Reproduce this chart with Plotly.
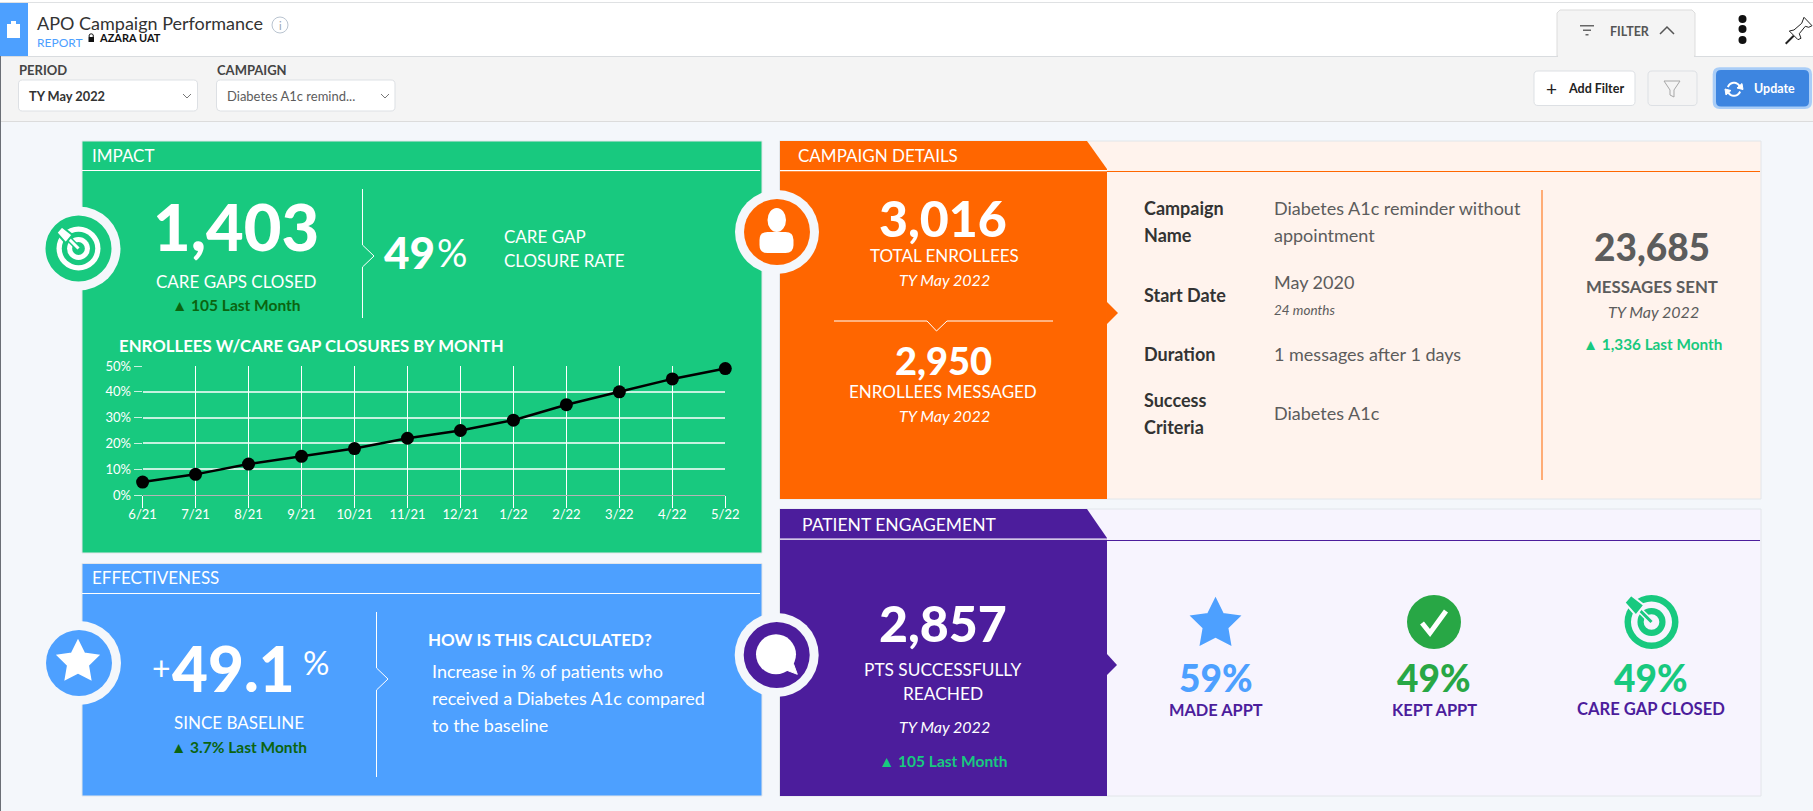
import math

import plotly.graph_objects as go

WIDTH = 1813
HEIGHT = 811
FONT = "Lato"

GREEN = "#18c97f"
ORANGE = "#ff6600"
BLUE = "#4da0ff"
PURPLE = "#4c1d9c"
KEPT_GREEN = "#28a745"
DARK_GREEN = "#0b6410"
PAGE = "#f4f7fb"
PEACH = "#fff3ed"
LAVENDER = "#f7f4fe"
TEXT_DARK = "#333333"
TEXT_GRAY = "#5c5c5c"

# closure rate chart
months = ["6/21", "7/21", "8/21", "9/21", "10/21", "11/21", "12/21", "1/22", "2/22", "3/22", "4/22", "5/22"]
closure_rates = [5, 8, 12, 15, 18, 22, 25, 29, 35, 40, 45, 49]
rate_ticks = [0, 10, 20, 30, 40, 50]
rate_tick_labels = ["0%", "10%", "20%", "30%", "40%", "50%"]

fig = go.Figure()


def fx(x):
    return x / WIDTH


def fy(y):
    return 1 - y / HEIGHT


def rect(x0, y0, x1, y1, fill, line=None, lw=1):
    fig.add_shape(
        type="rect", layer="below", xref="paper", yref="paper",
        x0=fx(x0), x1=fx(x1), y0=fy(y0), y1=fy(y1),
        fillcolor=fill, line=dict(color=line, width=lw if line else 0),
    )


def circle(cx, cy, r, fill, line=None, lw=1):
    fig.add_shape(
        type="circle", layer="below", xref="paper", yref="paper",
        x0=fx(cx - r), x1=fx(cx + r), y0=fy(cy - r), y1=fy(cy + r),
        fillcolor=fill, line=dict(color=line, width=lw if line else 0),
    )


def path(d, fill=None, line=None, lw=1):
    fig.add_shape(
        type="path", layer="below", xref="paper", yref="paper", path=d,
        fillcolor=fill if fill else "rgba(0,0,0,0)",
        line=dict(color=line, width=lw if line else 0),
    )


def poly(points, fill=None, line=None, lw=1, closed=True):
    d = "M" + " L".join(f"{fx(x):.5f},{fy(y):.5f}" for x, y in points)
    path(d + (" Z" if closed else ""), fill, line, lw)


def round_rect(x0, y0, x1, y1, r, fill, line=None, lw=1):
    p = lambda x, y: f"{fx(x):.5f},{fy(y):.5f}"
    d = (
        f"M{p(x0 + r, y0)} L{p(x1 - r, y0)} Q{p(x1, y0)} {p(x1, y0 + r)}"
        f" L{p(x1, y1 - r)} Q{p(x1, y1)} {p(x1 - r, y1)}"
        f" L{p(x0 + r, y1)} Q{p(x0, y1)} {p(x0, y1 - r)}"
        f" L{p(x0, y0 + r)} Q{p(x0, y0)} {p(x0 + r, y0)} Z"
    )
    path(d, fill, line, lw)


def star(cx, cy, r, fill):
    pts = []
    for i in range(10):
        rad = r if i % 2 == 0 else r * 0.5
        a = -math.pi / 2 + i * math.pi / 5
        pts.append((cx + rad * math.cos(a), cy + rad * math.sin(a)))
    poly(pts, fill, fill, 2)


def arc(cx, cy, r, start, end):
    steps = 12
    return [
        (
            cx + r * math.cos(math.radians(start + (end - start) * i / steps)),
            cy + r * math.sin(math.radians(start + (end - start) * i / steps)),
        )
        for i in range(steps + 1)
    ]


def label(x, y, text, size, color="#ffffff", anchor="left", bold=False, italic=False, weight=None):
    if bold:
        text = f"<b>{text}</b>"
    if italic:
        text = f"<i>{text}</i>"
    font = dict(family=FONT, size=size, color=color)
    if weight:
        font["weight"] = weight
    fig.add_annotation(
        xref="paper", yref="paper", x=fx(x), y=fy(y - 0.8), text=text,
        showarrow=False, xanchor=anchor, yanchor="middle", borderpad=0,
        font=font,
    )


def ring(cx, cy, color):
    circle(cx, cy, 42, PAGE)
    circle(cx, cy, 33, color)


def target(cx, cy, r, color, back):
    # bullseye with the arrow coming in from the top left
    circle(cx, cy, r, color)
    circle(cx, cy, r * 0.76, back)
    circle(cx, cy, r * 0.52, color)
    circle(cx, cy, r * 0.29, back)
    poly([(cx - r * 0.5, cy - r * 0.5), (cx, cy)], None, back, 6, closed=False)
    poly([(cx - r * 0.5, cy - r * 0.5), (cx, cy)], None, color, 3, closed=False)
    poly(
        [
            (cx - r * 0.76, cy - r * 1.0),
            (cx - r * 0.27, cy - r * 0.62),
            (cx - r * 0.58, cy - r * 0.24),
            (cx - r * 1.0, cy - r * 0.72),
        ],
        color, back, 2,
    )


def chevron_rule(x, y0, y1, tip_top, tip_bottom, tip_x):
    poly(
        [(x, y0), (x, tip_top), (tip_x, (tip_top + tip_bottom) / 2), (x, tip_bottom), (x, y1)],
        None, "#ffffff", 1, closed=False,
    )


# header and filter bar
rect(0, 0, WIDTH, 3, "#ffffff")
rect(0, 2, WIDTH, 3, "#dfe1e3")
rect(0, 3, WIDTH, 56, "#ffffff")
rect(0, 56, WIDTH, 121, "#f4f4f4")
rect(0, 56, WIDTH, 57, "#d9dcdf")
rect(0, 121, WIDTH, 122, "#dcdcdc")
rect(0, 56, 1, HEIGHT, "#6b6f76")
rect(0, 3, 28, 56, BLUE)
rect(7, 24, 20, 38, "#ffffff")
rect(11, 21, 16, 25, "#ffffff")

label(36, 23.8, "APO Campaign Performance", 18, TEXT_DARK)
circle(280, 25, 8, "#ffffff", "#b9c4d0", 1)
label(280, 25.8, "i", 11, "#9aa5b1", "center")
label(36, 43, "REPORT", 12, BLUE)
rect(88.5, 37, 94, 42, "#111111")
circle(91.2, 36, 2.2, None, "#111111", 1)
label(98, 38, "AZARA UAT", 11, "#111111", bold=True)

label(18, 71, "PERIOD", 13, "#444444", bold=True)
label(216, 71, "CAMPAIGN", 13, "#444444", bold=True)
round_rect(18.5, 80, 197.5, 111, 4, "#ffffff", "#dde0e4")
label(28, 96.8, "TY May 2022", 12.8, TEXT_DARK, bold=True)
poly([(183, 94), (187, 98), (191, 94)], None, "#777777", 1, closed=False)
round_rect(216.5, 80, 395, 111, 4, "#ffffff", "#dde0e4")
label(226, 96.8, "Diabetes A1c remind...", 13, TEXT_GRAY)
poly([(381, 94), (385, 98), (389, 94)], None, "#777777", 1, closed=False)

poly([(1557, 56), (1557, 13), (1560, 10), (1692, 10), (1695, 13), (1695, 56)], "#f4f4f4", "#dcdcdc")
rect(1558, 55, 1694, 58, "#f4f4f4")
rect(1580, 25, 1594, 26.5, "#666666")
rect(1583, 29.5, 1591, 31, "#666666")
rect(1585.5, 34, 1588.5, 35.5, "#666666")
label(1609, 31.8, "FILTER", 12.5, "#555555", bold=True)
poly([(1660, 34), (1667, 27), (1674, 34)], None, "#555555", 1.5, closed=False)
for dot_y in (19, 29, 40):
    circle(1742.5, dot_y, 4, "#111111")
poly(
    [
        (1804, 17.3), (1812, 25.7), (1808.7, 27.3), (1805.3, 26.3), (1799.3, 33.7), (1801, 38.3),
        (1798, 39.7), (1789.3, 31), (1794, 30), (1801.7, 23.3),
    ],
    "#ffffff", "#222222", 1,
)
poly([(1793.7, 35.7), (1785.7, 43.7)], None, "#222222", 2, closed=False)

round_rect(1534, 71, 1635, 105.5, 4, "#ffffff", "#dde0e4")
label(1551, 89, "+", 19, "#222222", "center")
label(1567, 89.8, "Add Filter", 12.5, "#222222", bold=True)
round_rect(1648, 71, 1697, 105.5, 4, "#f4f4f4", "#dde0e4")
poly([(1664, 81), (1680, 81), (1674, 90), (1674, 97), (1670, 95), (1670, 90)], None, "#a6a6a6", 1)
round_rect(1712.7, 67.3, 1812, 109, 7, "#a9cdf7")
round_rect(1716, 70, 1809, 106.5, 5, "#3d85e0")
poly(arc(1734, 89.3, 6.5, 20, 150), None, "#ffffff", 2, closed=False)
poly(arc(1734, 89.3, 6.5, 200, 330), None, "#ffffff", 2, closed=False)
poly([(1725, 89), (1731, 90.5), (1726, 95)], "#ffffff", "#ffffff", 1)
poly([(1743, 89.5), (1737, 88), (1742, 83.5)], "#ffffff", "#ffffff", 1)
label(1753, 89.8, "Update", 12.5, "#ffffff", bold=True)

# impact panel
rect(82, 141, 762, 553, GREEN, "#e2e6ea")
rect(82, 170, 760, 171, "#ffffff")
label(91, 156, "IMPACT", 17)
label(236, 227, "1,403", 65, "#ffffff", "center", weight=900)
label(236, 282, "CARE GAPS CLOSED", 17, "#ffffff", "center")
label(236, 306, "▲ 105 Last Month", 15.5, DARK_GREEN, "center", bold=True)
chevron_rule(362.5, 189, 318, 245, 267, 374)
label(383, 253, "49", 44, "#ffffff", weight=900)
label(436, 253, "%", 38, "#ffffff")
label(503, 237, "CARE GAP", 17)
label(503, 261, "CLOSURE RATE", 17)
label(118, 346, "ENROLLEES W/CARE GAP CLOSURES BY MONTH", 16.8, bold=True)

# effectiveness panel
rect(82, 563.5, 762, 796, BLUE, "#e2e6ea")
rect(82, 593, 760, 594, "#ffffff")
label(91, 578.5, "EFFECTIVENESS", 17)
label(151, 668, "+", 32)
label(171, 669, "49.1", 62, weight=900)
label(302, 663, "%", 33)
label(239, 723, "SINCE BASELINE", 17, "#ffffff", "center")
label(239, 748, "▲ 3.7% Last Month", 15.5, DARK_GREEN, "center", bold=True)
chevron_rule(376.5, 612, 777, 668, 690, 388)
label(427, 640, "HOW IS THIS CALCULATED?", 17, bold=True)
label(431, 672, "Increase in % of patients who", 18)
label(431, 699, "received a Diabetes A1c compared", 18)
label(431, 726, "to the baseline", 18)

# campaign details panel
rect(779.5, 141, 1761, 499, PEACH, "#e2e6ea")
poly([(780, 141), (1087, 141), (1107, 169), (1107, 499), (780, 499)], ORANGE)
poly([(1107, 302), (1118, 313), (1107, 324)], ORANGE)
rect(780, 170, 1107, 171.2, "#ffffff")
rect(1107, 171, 1760, 172, ORANGE)
label(797, 156, "CAMPAIGN DETAILS", 17)
label(943, 219, "3,016", 50, "#ffffff", "center", weight=900)
label(944, 256, "TOTAL ENROLLEES", 17, "#ffffff", "center")
label(945, 280, "TY May 2022", 16, "#ffffff", "center", italic=True)
poly([(834, 321), (927, 321), (936.5, 331), (947, 321), (1053, 321)], None, "#ffffff", 1, closed=False)
label(943, 361, "2,950", 38, "#ffffff", "center", weight=900)
label(943, 392, "ENROLLEES MESSAGED", 17, "#ffffff", "center")
label(945, 416, "TY May 2022", 16, "#ffffff", "center", italic=True)

label(1143, 209, "Campaign", 18, TEXT_DARK, bold=True)
label(1143, 236, "Name", 18, TEXT_DARK, bold=True)
label(1143, 296, "Start Date", 18, TEXT_DARK, bold=True)
label(1143, 355, "Duration", 18, TEXT_DARK, bold=True)
label(1143, 401, "Success", 18, TEXT_DARK, bold=True)
label(1143, 428, "Criteria", 18, TEXT_DARK, bold=True)
label(1273, 209, "Diabetes A1c reminder without", 18, TEXT_GRAY)
label(1273, 236, "appointment", 18, TEXT_GRAY)
label(1273, 283, "May 2020", 18, TEXT_GRAY)
label(1273, 311, "24 months", 13.5, TEXT_GRAY, italic=True)
label(1273, 355, "1 messages after 1 days", 18, TEXT_GRAY)
label(1273, 414, "Diabetes A1c", 18, TEXT_GRAY)
rect(1541.5, 190, 1542.5, 480, ORANGE)
label(1652, 247, "23,685", 37, TEXT_GRAY, "center", weight=900)
label(1652, 287, "MESSAGES SENT", 16.8, TEXT_GRAY, "center", bold=True)
label(1653, 312, "TY May 2022", 16, TEXT_GRAY, "center", italic=True)
label(1652, 344.5, "▲ 1,336 Last Month", 15.3, GREEN, "center", bold=True)

# patient engagement panel
rect(779.5, 509, 1761, 796, LAVENDER, "#e2e6ea")
poly([(780, 509), (1087, 509), (1107, 538), (1107, 796), (780, 796)], PURPLE)
poly([(1107, 654), (1117, 665), (1107, 675)], PURPLE)
rect(780, 538.5, 1107, 539.7, "#ffffff")
rect(1107, 540, 1760, 541, PURPLE)
label(801, 525, "PATIENT ENGAGEMENT", 17.5)
label(943, 624, "2,857", 50, "#ffffff", "center", weight=900)
label(943, 670, "PTS SUCCESSFULLY", 17.3, "#ffffff", "center")
label(943, 694, "REACHED", 17.3, "#ffffff", "center")
label(945, 727, "TY May 2022", 16, "#ffffff", "center", italic=True)
label(943, 762, "▲ 105 Last Month", 15.5, GREEN, "center", bold=True)

star(1215.5, 624, 25, BLUE)
circle(1434, 622, 27, KEPT_GREEN)
poly([(1422, 623), (1430, 633), (1446, 611)], None, "#ffffff", 5, closed=False)
target(1651.5, 622, 27, GREEN, LAVENDER)
label(1215.5, 678, "59%", 37, BLUE, "center", weight=900)
label(1434, 678, "49%", 37, KEPT_GREEN, "center", weight=900)
label(1651, 678, "49%", 37, GREEN, "center", weight=900)
label(1215.5, 710, "MADE APPT", 16.4, PURPLE, "center", bold=True)
label(1434, 710, "KEPT APPT", 16.4, PURPLE, "center", bold=True)
label(1651, 710, "CARE GAP CLOSED", 16.6, PURPLE, "center", bold=True)

# round badges hanging over the panel edges
ring(78.5, 248.5, GREEN)
target(78.5, 248.5, 22, "#ffffff", GREEN)
ring(79, 663, BLUE)
star(78, 662, 21, "#ffffff")
ring(777, 232, ORANGE)
fig.add_shape(
    type="circle", layer="below", xref="paper", yref="paper",
    x0=fx(767.5), x1=fx(786), y0=fy(208), y1=fy(232),
    fillcolor="#ffffff", line=dict(width=0),
)
round_rect(759.5, 232, 793.5, 253, 8, "#ffffff")
ring(776.7, 655, PURPLE)
circle(776, 654.3, 20, "#ffffff")
poly([(786, 670), (797.3, 674.3), (793.3, 663.3)], "#ffffff", "#ffffff", 1)

fig.add_trace(
    go.Scatter(
        x=months,
        y=closure_rates,
        mode="lines+markers",
        line=dict(color="#000000", width=2.5),
        marker=dict(color="#000000", size=13),
        cliponaxis=False,
        hoverinfo="skip",
        showlegend=False,
    )
)

fig.update_layout(
    width=WIDTH,
    height=HEIGHT,
    margin=dict(l=0, r=0, t=0, b=0, autoexpand=False),
    paper_bgcolor=PAGE,
    plot_bgcolor="rgba(0,0,0,0)",
    font=dict(family=FONT, color="#ffffff"),
    xaxis=dict(
        domain=[fx(142.6), fx(725.3)],
        type="category",
        range=[0, 11],
        showgrid=True,
        gridcolor="#ffffff",
        gridwidth=1,
        zeroline=False,
        ticks="outside",
        ticklen=12,
        tickcolor="#ffffff",
        tickwidth=1,
        ticklabelstandoff=-5,
        tickfont=dict(size=13, color="#ffffff"),
        showline=True,
        linecolor="#b5b5b5",
    ),
    yaxis=dict(
        domain=[fy(495), fy(366)],
        range=[0, 50],
        tickmode="array",
        tickvals=rate_ticks,
        ticktext=rate_tick_labels,
        showgrid=True,
        gridcolor="rgba(255,255,255,0.75)",
        gridwidth=2,
        zeroline=False,
        ticks="outside",
        ticklen=8,
        tickcolor="rgba(255,255,255,0.75)",
        tickfont=dict(size=13, color="#ffffff"),
    ),
)

fig.write_html(
    "out.html",
    config={"displayModeBar": False},
    post_script="document.body.style.margin='0';document.documentElement.style.overflow='hidden';",
)
